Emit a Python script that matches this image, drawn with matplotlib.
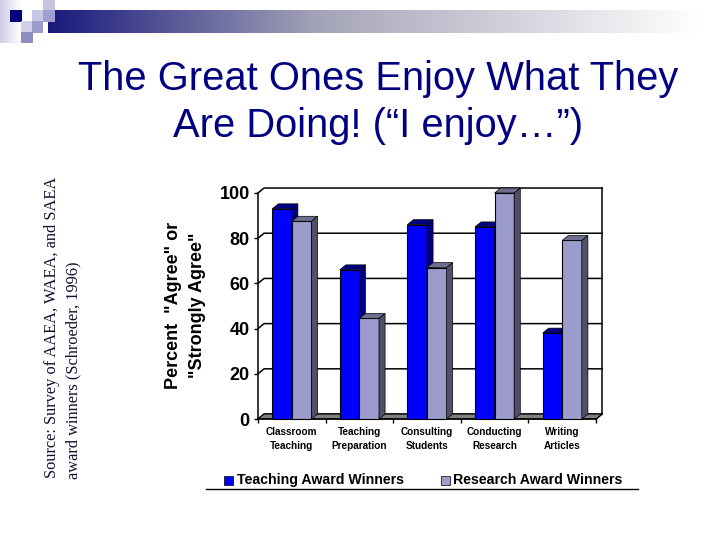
import numpy as np
import matplotlib
matplotlib.use("Agg")
import matplotlib.pyplot as plt
from matplotlib.patches import Polygon, Rectangle
from matplotlib.lines import Line2D

categories = ["Classroom\nTeaching", "Teaching\nPreparation", "Consulting\nStudents",
              "Conducting\nResearch", "Writing\nArticles"]
teaching = [93, 66, 86, 85, 38]
research = [87.5, 44.5, 67, 100, 79]
y_ticks = [0, 20, 40, 60, 80, 100]
series_names = ["Teaching Award Winners", "Research Award Winners"]

plt.rcParams["font.family"] = ["Liberation Sans", "DejaVu Sans"]

W, H = 720, 540
fig = plt.figure(figsize=(W / 100, H / 100), dpi=100)

# slide background, in pixel coords
bg = fig.add_axes([0, 0, 1, 1])
bg.axis("off")

# banner fades navy -> grey -> white
t = np.linspace(0, 1, 256)
banner = np.stack([np.interp(t, [0, 0.42, 1], [25, 165, 255]),
                   np.interp(t, [0, 0.42, 1], [25, 165, 255]),
                   np.interp(t, [0, 0.42, 1], [125, 185, 255])], axis=-1)[None, :, :] / 255
bg.imshow(banner, extent=(48, 700, 33, 10), aspect="auto")

# left column fades to white
fade = np.stack([np.interp(t, [0, 1], [205, 255]),
                 np.interp(t, [0, 1], [205, 255]),
                 np.interp(t, [0, 1], [230, 255])], axis=-1)[None, :, :] / 255
bg.imshow(fade, extent=(0, 21, 43, 0), aspect="auto")
bg.set_xlim(0, W)
bg.set_ylim(H, 0)

bg.add_patch(Rectangle((32, 10), 23, 12, fc="white", ec="none"))
squares = [(10, 10, 12, 12, "#000080"), (32, 10, 11, 12, "#c8c8e4"), (43, 10, 12, 12, "#a0a0d0"),
           (43, 0, 12, 10, "#c4c4e0"), (21, 21, 11, 11, "#d0d0e8"), (32, 21, 11, 12, "#9c9ccc"),
           (21, 32, 12, 11, "#8c8cc0")]
for x, y, w, h, c in squares:
    bg.add_patch(Rectangle((x, y), w, h, fc=c, ec="none"))

bg.text(378, 79, "The Great Ones Enjoy What They", ha="center", va="center", fontsize=28.7, color="#000080")
bg.text(378, 126, "Are Doing! (\u201cI enjoy\u2026\u201d)", ha="center", va="center", fontsize=28.7, color="#000080")
bg.text(52, 327, "Source: Survey of AAEA, WAEA, and SAEA", rotation=90, ha="center", va="center",
        fontsize=11.8, family="Liberation Serif", color="#101030")
bg.text(73, 370, "award winners (Schroeder, 1996)", rotation=90, ha="center", va="center",
        fontsize=11.8, family="Liberation Serif", color="#101030")
bg.text(173, 305, "Percent  \"Agree\" or", rotation=90, ha="center", va="center", fontsize=13, fontweight="bold")
bg.text(197, 305, "\"Strongly Agree\"", rotation=90, ha="center", va="center", fontsize=13, fontweight="bold")

# chart, front plane from x 258 to 596, y 419 to 193
ax = fig.add_axes([258 / W, 1 - 419 / H, 338 / W, 226 / H])
ax.patch.set_alpha(0)
ax.set_xlim(0, 5)
ax.set_ylim(0, 100)
for s in ax.spines.values():
    s.set_visible(False)

dx, dy = 0.09, 2.2
bw = 0.29

# back wall, floor, grid
for v in y_ticks:
    ax.plot([0, dx, 5 + dx], [v, v + dy, v + dy], color="k", lw=1.1, clip_on=False, zorder=1)
ax.plot([5 + dx, 5 + dx], [dy, 100 + dy], color="k", lw=1.1, clip_on=False, zorder=1)
ax.plot([5, 5 + dx], [0, dy], color="k", lw=1.1, clip_on=False, zorder=1)
ax.add_patch(Polygon([(0, 0), (dx, dy), (5 + dx, dy), (5, 0)], fc="#808080", ec="k", lw=0.8, clip_on=False, zorder=1.5))
ax.plot([0, 0], [0, 100], color="k", lw=1.1, clip_on=False, zorder=1)

ax.set_xticks(range(6))
ax.set_xticklabels([])
ax.set_yticks(y_ticks)
ax.set_yticklabels([str(v) for v in y_ticks], fontsize=13, fontweight="bold")
ax.tick_params(axis="y", length=3, width=1, pad=3)
ax.tick_params(axis="x", length=3, width=1)
ax.plot([0, 5], [0, 0], color="k", lw=1.1, clip_on=False, zorder=2)
for i, name in enumerate(categories):
    ax.text(i + 0.5, -3.5, name, ha="center", va="top", fontsize=7.2, fontweight="bold", linespacing=1.5)


def bar3d(x, v, face, top, side, z):
    ax.bar(x, v, bw, align="edge", color=face, edgecolor="k", lw=0.8, zorder=z, clip_on=False)
    ax.add_patch(Polygon([(x, v), (x + dx, v + dy), (x + bw + dx, v + dy), (x + bw, v)],
                         fc=top, ec="k", lw=0.5, clip_on=False, zorder=z))
    ax.add_patch(Polygon([(x + bw, 0), (x + bw + dx, dy), (x + bw + dx, v + dy), (x + bw, v)],
                         fc=side, ec="k", lw=0.5, clip_on=False, zorder=z))


for i in range(len(categories)):
    bar3d(i + 0.5 - bw, teaching[i], "#0000ff", "#00007f", "#00007f", 3 + i)
    bar3d(i + 0.5, research[i], "#9c9ccc", "#6e6e90", "#50506a", 3.5 + i)

# legend, drawn by hand with its rule underneath
bg.add_patch(Rectangle((224, 476), 9, 9, fc="#0000ff", ec="k", lw=0.5))
bg.add_patch(Rectangle((441, 476), 9, 9, fc="#9c9ccc", ec="k", lw=0.5))
bg.text(237, 480, series_names[0], ha="left", va="center", fontsize=10.2, fontweight="bold")
bg.text(453, 480, series_names[1], ha="left", va="center", fontsize=10.2, fontweight="bold")
bg.add_line(Line2D([206, 638], [489, 489], color="k", lw=1))

fig.savefig("out.png", dpi=100)
